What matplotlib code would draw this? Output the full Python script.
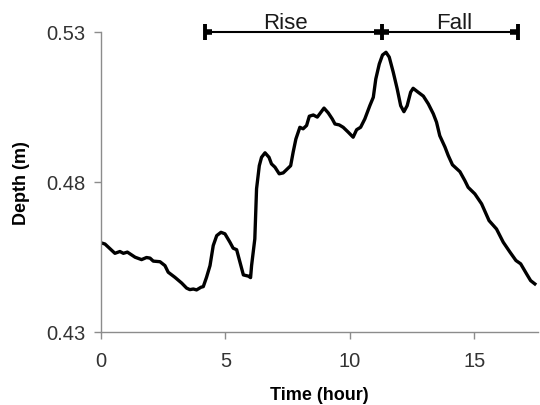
import matplotlib.pyplot as plt

plt.rcParams['font.family'] = ['Liberation Sans', 'DejaVu Sans']

# Water depth record
time_hr = [0.0, 0.16, 0.56, 0.76, 0.9, 1.06, 1.37, 1.63, 1.83, 1.97, 2.1, 2.37,
           2.57, 2.7, 2.97, 3.24, 3.44, 3.57, 3.71, 3.84, 4.02, 4.11, 4.24, 4.38,
           4.51, 4.65, 4.82, 4.98, 5.18, 5.31, 5.45, 5.72, 5.92, 6.01, 6.05, 6.18,
           6.25, 6.36, 6.45, 6.59, 6.75, 6.85, 6.99, 7.16, 7.32, 7.52, 7.62, 7.72,
           7.83, 7.99, 8.12, 8.26, 8.37, 8.53, 8.69, 8.96, 9.13, 9.29, 9.4, 9.57,
           9.73, 9.93, 10.13, 10.27, 10.43, 10.6, 10.8, 10.94, 11.04, 11.18, 11.31,
           11.45, 11.58, 11.74, 11.9, 12.04, 12.17, 12.3, 12.44, 12.54, 12.74,
           12.95, 13.15, 13.35, 13.48, 13.61, 13.82, 13.95, 14.12, 14.42, 14.62,
           14.75, 15.02, 15.29, 15.59, 15.89, 16.16, 16.43, 16.67, 16.86, 17.1,
           17.26, 17.43]
depth_m = [0.4597, 0.4593, 0.4562, 0.4568, 0.4562, 0.4566, 0.4549, 0.4541, 0.4548,
           0.4546, 0.4536, 0.4534, 0.4521, 0.4499, 0.4482, 0.4463, 0.4446, 0.4441,
           0.4443, 0.4440, 0.4449, 0.4451, 0.4482, 0.4521, 0.4588, 0.4621, 0.4632,
           0.4627, 0.4599, 0.4579, 0.4574, 0.4490, 0.4486, 0.4481, 0.4521, 0.4610,
           0.4777, 0.4854, 0.4882, 0.4897, 0.4882, 0.4860, 0.4849, 0.4827, 0.4830,
           0.4846, 0.4854, 0.4899, 0.4943, 0.4982, 0.4977, 0.4988, 0.5019, 0.5023,
           0.5016, 0.5046, 0.5030, 0.5010, 0.4993, 0.4990, 0.4982, 0.4966, 0.4949,
           0.4974, 0.4982, 0.5010, 0.5054, 0.5082, 0.5143, 0.5193, 0.5223, 0.5232,
           0.5216, 0.5166, 0.5110, 0.5054, 0.5034, 0.5054, 0.5099, 0.5112, 0.5099,
           0.5086, 0.5060, 0.5027, 0.4999, 0.4954, 0.4916, 0.4888, 0.4857, 0.4834,
           0.4804, 0.4782, 0.4760, 0.4727, 0.4671, 0.4643, 0.4599, 0.4566, 0.4538,
           0.4527, 0.4493, 0.4471, 0.4460]

# Rise / fall phases (hours) and where their labels sit
rise_start = 4.18
peak_time = 11.28
fall_end = 16.75
phase_labels = ['Rise', 'Fall']
phase_label_x = [7.4, 14.2]

xticks = [0, 5, 10, 15]
yticks = [0.43, 0.48, 0.53]

fig = plt.figure(figsize=(5.4, 4.06), dpi=100)
ax = fig.add_axes([0.187, 0.180, 0.809, 0.739])

ax.plot(time_hr, depth_m, color='black', linewidth=2.4, solid_joinstyle='round')

ax.set_xlim(0, 17.55)
ax.set_ylim(0.43, 0.53)
ax.set_xticks(xticks)
ax.set_yticks(yticks)
ax.set_yticklabels(['%.2f' % v for v in yticks])

for side in ['top', 'right']:
    ax.spines[side].set_visible(False)
for side in ['left', 'bottom']:
    ax.spines[side].set_color('#8c8c8c')
    ax.spines[side].set_linewidth(1.0)
ax.tick_params(axis='both', direction='out', length=5, width=1.0,
               color='#8c8c8c', labelsize=14.5, labelcolor='#333333')
ax.tick_params(axis='x', pad=9)
ax.tick_params(axis='y', pad=6)

ax.set_xlabel('Time (hour)', fontsize=13, fontweight='bold', labelpad=11)
ax.set_ylabel('Depth (m)', fontsize=13, fontweight='bold', labelpad=12)

# Phase bar across the top
bar_y = 0.53
ax.plot([rise_start, fall_end], [bar_y, bar_y], color='black', linewidth=1.5,
        clip_on=False)
ax.plot([rise_start, peak_time, fall_end], [bar_y] * 3, '|', color='black',
        markersize=12, markeredgewidth=2.8, clip_on=False)
for x0, x1 in [(rise_start, rise_start + 0.3), (peak_time - 0.3, peak_time + 0.3),
               (fall_end - 0.3, fall_end)]:
    ax.plot([x0, x1], [bar_y, bar_y], color='black', linewidth=4,
            solid_capstyle='butt', clip_on=False)
for lx, label in zip(phase_label_x, phase_labels):
    ax.text(lx, bar_y + 0.0013, label, ha='center', va='baseline',
            fontsize=16, color='#1a1a1a')

fig.savefig('out.png', dpi=100)
